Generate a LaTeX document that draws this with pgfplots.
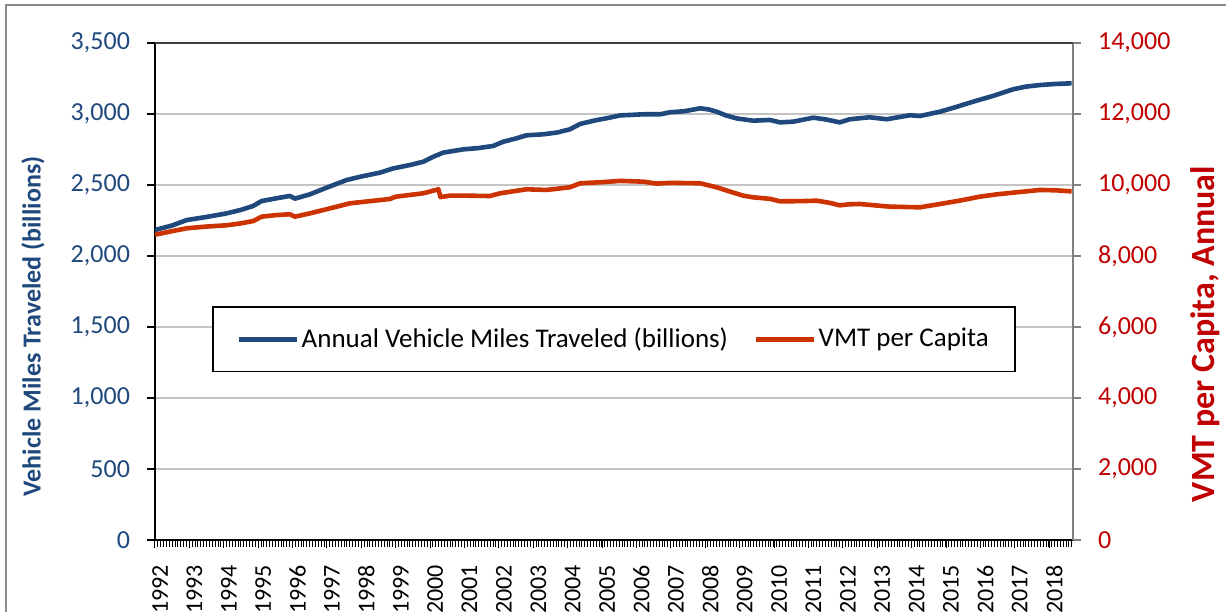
\documentclass[border=0pt]{standalone}
\usepackage{pgfplots}
\pgfplotsset{compat=1.18}
\usepackage{fontspec}
\setmainfont{Carlito}
\definecolor{vmtblue}{HTML}{1F497D}
\definecolor{vmtred}{HTML}{CC3300}
\definecolor{labred}{HTML}{C00000}
\definecolor{gridgray}{HTML}{C4C4C4}
\definecolor{framegray}{HTML}{8C8C8C}

\pgfplotstableread{
year vmt
1992.00 2183
1992.50 2215
1992.92 2253
1993.50 2275
1994.08 2300
1994.50 2325
1994.85 2352
1995.10 2387
1995.50 2405
1995.92 2423
1996.07 2404
1996.50 2434
1997.00 2482
1997.57 2535
1998.00 2560
1998.54 2587
1998.93 2617
1999.40 2640
1999.80 2664
2000.10 2700
2000.38 2728
2000.96 2751
2001.40 2760
2001.83 2775
2002.13 2805
2002.50 2828
2002.80 2850
2003.29 2857
2003.70 2870
2004.06 2892
2004.36 2930
2004.80 2955
2005.23 2975
2005.52 2990
2006.20 2998
2006.69 2998
2006.97 3012
2007.40 3020
2007.85 3040
2008.10 3032
2008.33 3016
2008.60 2990
2008.91 2969
2009.39 2953
2009.88 2958
2010.17 2941
2010.56 2946
2011.14 2974
2011.50 2962
2011.91 2941
2012.20 2963
2012.78 2977
2013.27 2963
2013.95 2991
2014.24 2986
2014.82 3016
2015.30 3050
2015.79 3087
2016.40 3130
2016.95 3174
2017.30 3192
2017.73 3204
2018.20 3212
2018.65 3216
}\vmttable

\pgfplotstableread{
year percap
1992.00 8600
1992.50 8700
1992.92 8780
1993.50 8830
1994.08 8865
1994.50 8920
1994.86 8986
1995.10 9108
1995.50 9150
1995.92 9175
1996.07 9108
1996.50 9200
1997.00 9320
1997.67 9485
1998.20 9540
1998.83 9606
1999.00 9671
1999.80 9766
2000.24 9879
2000.30 9660
2000.58 9700
2001.00 9700
2001.74 9690
2002.03 9766
2002.80 9879
2003.38 9860
2004.06 9935
2004.36 10048
2005.00 10080
2005.52 10115
2006.20 10094
2006.58 10040
2007.00 10060
2007.85 10048
2008.33 9935
2008.70 9820
2009.10 9700
2009.39 9653
2009.88 9610
2010.17 9540
2010.75 9545
2011.24 9558
2011.60 9500
2011.91 9428
2012.20 9457
2012.50 9465
2013.00 9420
2013.37 9390
2014.24 9371
2014.82 9465
2015.40 9560
2015.98 9671
2016.50 9740
2017.05 9794
2017.73 9860
2018.20 9850
2018.65 9820
}\pcaptable

\begin{document}
\begin{tikzpicture}
\useasboundingbox (-77.5pt,-35.5pt) rectangle (535.5pt,270pt);
\draw[framegray, line width=0.6pt] (-74.5pt,-40pt) -- (-74.5pt,267.5pt) -- (540pt,267.5pt);
\begin{axis}[
  at={(0pt,0pt)}, anchor=south west,
  width=459pt, height=248.5pt, scale only axis,
  xmin=1992, xmax=2018.69,
  ymin=0, ymax=3500,
  axis x line*=bottom, axis y line*=left,
  axis line style={-, black, line width=0.6pt},
  ytick={0,500,...,3500},
  ymajorgrids, grid style={gridgray, line width=1pt},
  xtick={1992,...,2018},
  xticklabels={1992,1993,1994,1995,1996,1997,1998,1999,2000,2001,2002,2003,2004,2005,2006,2007,2008,2009,2010,2011,2012,2013,2014,2015,2016,2017,2018},
  minor xtick={1992,1992.083333,...,2018.7},
  tick align=outside,
  major tick length=4pt, minor tick length=3.5pt,
  x tick style={black, line width=0.5pt},
  minor x tick style={black, line width=0.5pt},
  y tick style={black, line width=0.6pt},
  x tick label style={xshift=2.5pt, rotate=90, anchor=east, font=\fontsize{12}{14}\selectfont, black},
  xticklabel shift=5pt,
  y tick label style={font=\fontsize{13}{15}\selectfont, text=vmtblue},
  yticklabel shift=5pt,
  /pgf/number format/assume math mode=true,
  /pgf/number format/fixed,
  /pgf/number format/1000 sep={,},
  scaled y ticks=false,
  ylabel={Vehicle Miles Traveled (billions)},
  ylabel style={at={(axis description cs:-0.133,0.43)}, anchor=center, rotate=0, font=\bfseries\fontsize{13}{15}\selectfont, text=vmtblue},
  legend style={at={(axis description cs:0.500,0.404)}, anchor=center, draw=black, line width=0.8pt, fill=white,
    font=\fontsize{13.5}{16}\selectfont, inner xsep=12pt, inner ysep=8.5pt,
    nodes={inner xsep=1pt},
    /tikz/every even column/.append style={column sep=12pt}},
  legend columns=2,
  legend cell align=left,
  legend image code/.code={\draw[#1, line width=2.3pt] (0pt,0pt) -- (29pt,0pt);},
]
\addplot[vmtblue, line width=2.3pt, line join=round] table[x=year, y=vmt] {\vmttable};
\addlegendentry{Annual Vehicle Miles Traveled (billions)}
\addlegendimage{vmtred, line width=2.3pt}
\addlegendentry{VMT per Capita}
\end{axis}
\begin{axis}[
  at={(0pt,0pt)}, anchor=south west,
  width=459pt, height=248.5pt, scale only axis,
  xmin=1992, xmax=2018.69,
  ymin=0, ymax=14000,
  axis x line=none, axis y line*=right,
  axis line style={-, gray, line width=0.8pt},
  ytick={0,2000,...,14000},
  tick align=outside,
  major tick length=4pt,
  y tick style={gray, line width=0.6pt},
  y tick label style={font=\fontsize{13}{15}\selectfont, text=labred},
  yticklabel shift=5pt,
  /pgf/number format/assume math mode=true,
  /pgf/number format/fixed,
  /pgf/number format/1000 sep={,},
  scaled y ticks=false,
  ylabel={VMT per Capita, Annual},
  ylabel style={at={(axis description cs:1.1438,0.4145)}, anchor=center, rotate=0, font=\bfseries\fontsize{17}{19}\selectfont, text=labred},
]
\addplot[vmtred, line width=2.3pt, line join=round] table[x=year, y=percap] {\pcaptable};
\draw[darkgray, line width=0.6pt] (rel axis cs:0,1) -- (rel axis cs:1,1);
\end{axis}
\end{tikzpicture}
\end{document}
